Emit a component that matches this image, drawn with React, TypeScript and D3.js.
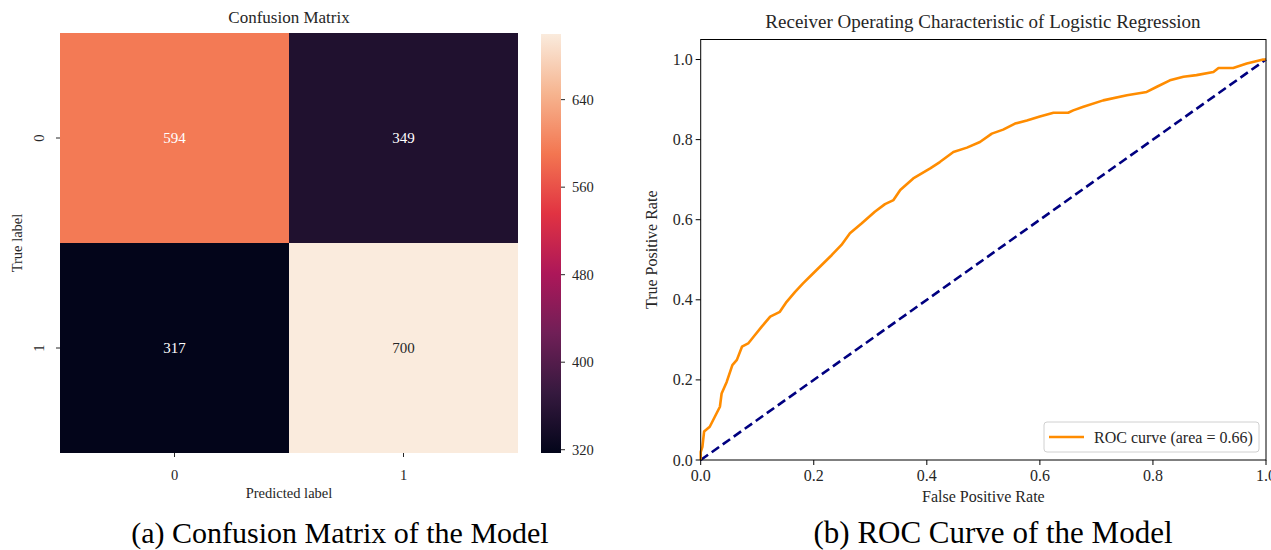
import React from "react";
import * as d3 from "d3";

// ---------- Data ----------
const cmLabels = ["0", "1"];
const cmValues = [
  [594, 349],
  [317, 700],
];
const cbarTicks = [320, 400, 480, 560, 640];

const rocFpr = [0, 0, 0.003, 0.006, 0.016, 0.025, 0.034, 0.037, 0.046, 0.056, 0.064, 0.073, 0.084, 0.096, 0.108, 0.123, 0.14, 0.152, 0.167, 0.181, 0.196, 0.214, 0.232, 0.249, 0.264, 0.285, 0.308, 0.326, 0.341, 0.353, 0.376, 0.406, 0.423, 0.447, 0.471, 0.494, 0.515, 0.535, 0.556, 0.577, 0.6, 0.624, 0.65, 0.659, 0.677, 0.712, 0.754, 0.789, 0.807, 0.83, 0.854, 0.877, 0.907, 0.916, 0.942, 0.966, 0.995, 1];
const rocTpr = [0, 0.02, 0.033, 0.071, 0.083, 0.108, 0.133, 0.166, 0.195, 0.237, 0.25, 0.283, 0.291, 0.312, 0.333, 0.358, 0.37, 0.395, 0.42, 0.441, 0.462, 0.487, 0.512, 0.537, 0.566, 0.591, 0.62, 0.639, 0.649, 0.674, 0.703, 0.728, 0.744, 0.769, 0.78, 0.794, 0.815, 0.825, 0.84, 0.848, 0.858, 0.867, 0.867, 0.873, 0.882, 0.898, 0.911, 0.919, 0.932, 0.948, 0.957, 0.961, 0.969, 0.979, 0.979, 0.99, 1.0, 1];
const rocTicks = [0, 0.2, 0.4, 0.6, 0.8, 1.0];
const rocArea = 0.66;

// seaborn "rocket" colormap samples
const rocketStops = [
  [0, "#03051a"],
  [1 / 7, "#35193e"],
  [2 / 7, "#701f57"],
  [3 / 7, "#ad1759"],
  [4 / 7, "#e13342"],
  [5 / 7, "#f37651"],
  [6 / 7, "#f6b48f"],
  [1, "#faebdd"],
] as [number, string][];

const SERIF = "'Liberation Serif', 'Times New Roman', serif";

function rocket(t: number) {
  const s = d3
    .scaleLinear<string>()
    .domain(rocketStops.map((d) => d[0]))
    .range(rocketStops.map((d) => d[1]))
    .interpolate(d3.interpolateRgb)
    .clamp(true);
  return s(t);
}

function luminance(c: string) {
  const rgb = d3.rgb(c);
  const f = (v: number) => {
    const x = v / 255;
    return x <= 0.03928 ? x / 12.92 : Math.pow((x + 0.055) / 1.055, 2.4);
  };
  return 0.2126 * f(rgb.r) + 0.7152 * f(rgb.g) + 0.0722 * f(rgb.b);
}

export default function App() {
  // ----- Confusion matrix geometry -----
  const hmLeft = 60, hmRight = 518, hmTop = 33, hmBottom = 453;
  const xBand = d3.scaleBand().domain(cmLabels).range([hmLeft, hmRight]);
  const yBand = d3.scaleBand().domain(cmLabels).range([hmTop, hmBottom]);
  const flat = cmValues.flat();
  const vmin = d3.min(flat)!;
  const vmax = d3.max(flat)!;
  const norm = d3.scaleLinear().domain([vmin, vmax]).range([0, 1]);
  const cbX = 541, cbW = 20;
  const cbScale = d3.scaleLinear().domain([vmin, vmax]).range([hmBottom, hmTop + 1]);

  // ----- ROC geometry -----
  const xR = d3.scaleLinear().domain([0, 1]).range([700.7, 1266]);
  const yR = d3.scaleLinear().domain([0, 1.05]).range([460, 39.5]);
  const rocPts = rocFpr.map((f, i) => [f, rocTpr[i]] as [number, number]);
  const line = d3
    .line<[number, number]>()
    .x((d) => xR(d[0]))
    .y((d) => yR(d[1]));

  const axisColor = "#262626";

  return (
    <svg
      width={1271}
      height={550}
      style={{ position: "absolute", left: 0, top: 0, background: "#fff" }}
      fontFamily={SERIF}
    >
      <defs>
        <linearGradient id="rocketGrad" x1="0" y1="1" x2="0" y2="0">
          {rocketStops.map(([o, c]) => (
            <stop key={o} offset={o} stopColor={c} />
          ))}
        </linearGradient>
      </defs>

      {/* ===== Confusion matrix ===== */}
      <text x={(hmLeft + hmRight) / 2} y={23} textAnchor="middle" fontSize={17} fill={axisColor}>
        Confusion Matrix
      </text>
      {cmValues.map((row, ri) =>
        row.map((v, ci) => {
          const col = rocket(norm(v));
          const txtCol = luminance(col) > 0.408 ? "#262626" : "#ffffff";
          const x = xBand(cmLabels[ci])!;
          const y = yBand(cmLabels[ri])!;
          return (
            <g key={`${ri}-${ci}`}>
              <rect x={x} y={y} width={xBand.bandwidth()} height={yBand.bandwidth()} fill={col} />
              <text
                x={x + xBand.bandwidth() / 2}
                y={y + yBand.bandwidth() / 2}
                textAnchor="middle"
                dominantBaseline="central"
                fontSize={15}
                fill={txtCol}
              >
                {v}
              </text>
            </g>
          );
        })
      )}
      {/* x ticks */}
      {cmLabels.map((l) => {
        const cx = xBand(l)! + xBand.bandwidth() / 2;
        return (
          <g key={"xt" + l}>
            <line x1={cx} x2={cx} y1={hmBottom} y2={hmBottom + 4} stroke={axisColor} strokeWidth={1} />
            <text x={cx} y={480} textAnchor="middle" fontSize={14.5} fill={axisColor}>
              {l}
            </text>
          </g>
        );
      })}
      <text x={(hmLeft + hmRight) / 2} y={498} textAnchor="middle" fontSize={14.5} fill={axisColor}>
        Predicted label
      </text>
      {/* y ticks */}
      {cmLabels.map((l) => {
        const cy = yBand(l)! + yBand.bandwidth() / 2;
        return (
          <g key={"yt" + l}>
            <line x1={hmLeft - 4} x2={hmLeft} y1={cy} y2={cy} stroke={axisColor} strokeWidth={1} />
            <text
              transform={`translate(${44},${cy}) rotate(-90)`}
              textAnchor="middle"
              fontSize={14.5}
              fill={axisColor}
            >
              {l}
            </text>
          </g>
        );
      })}
      <text
        transform={`translate(${22},${(hmTop + hmBottom) / 2}) rotate(-90)`}
        textAnchor="middle"
        fontSize={14.5}
        fill={axisColor}
      >
        True label
      </text>
      {/* colorbar */}
      <rect x={cbX} y={hmTop + 1} width={cbW} height={hmBottom - hmTop - 1} fill="url(#rocketGrad)" />
      {cbarTicks.map((t) => (
        <g key={"cb" + t}>
          <line x1={cbX + cbW} x2={cbX + cbW + 4} y1={cbScale(t)} y2={cbScale(t)} stroke={axisColor} />
          <text x={cbX + cbW + 11} y={cbScale(t)} dominantBaseline="central" fontSize={14.5} fill={axisColor}>
            {t}
          </text>
        </g>
      ))}

      {/* ===== ROC ===== */}
      <text x={983} y={28} textAnchor="middle" fontSize={19} fill={axisColor}>
        Receiver Operating Characteristic of Logistic Regression
      </text>
      <line
        x1={xR(0)}
        y1={yR(0)}
        x2={xR(1)}
        y2={yR(1)}
        stroke="#000080"
        strokeWidth={2.6}
        strokeDasharray="9,4.5"
      />
      <path d={line(rocPts) || ""} fill="none" stroke="#ff8c00" strokeWidth={2.6} strokeLinejoin="round" />
      <rect
        x={xR(0)}
        y={yR(1.05)}
        width={xR(1) - xR(0)}
        height={yR(0) - yR(1.05)}
        fill="none"
        stroke="#000"
        strokeWidth={1}
      />
      {rocTicks.map((t) => (
        <g key={"rx" + t}>
          <line x1={xR(t)} x2={xR(t)} y1={yR(0)} y2={yR(0) + 5} stroke="#000" />
          <text x={xR(t)} y={yR(0) + 21} textAnchor="middle" fontSize={16} fill={axisColor}>
            {d3.format(".1f")(t)}
          </text>
          <line x1={xR(0) - 5} x2={xR(0)} y1={yR(t)} y2={yR(t)} stroke="#000" />
          <text x={xR(0) - 8} y={yR(t)} textAnchor="end" dominantBaseline="central" fontSize={16} fill={axisColor}>
            {d3.format(".1f")(t)}
          </text>
        </g>
      ))}
      <text x={(xR(0) + xR(1)) / 2} y={502} textAnchor="middle" fontSize={16} fill={axisColor}>
        False Positive Rate
      </text>
      <text
        transform={`translate(${657},${(yR(0) + yR(1.05)) / 2}) rotate(-90)`}
        textAnchor="middle"
        fontSize={16}
        fill={axisColor}
      >
        True Positive Rate
      </text>
      {/* legend */}
      <rect x={1044} y={422} width={215} height={30} rx={3} fill="#fff" fillOpacity={0.8} stroke="#d0d0d0" />
      <line x1={1049} x2={1084} y1={437} y2={437} stroke="#ff8c00" strokeWidth={2.6} />
      <text x={1094} y={437} dominantBaseline="central" fontSize={16} fill={axisColor}>
        {`ROC curve (area = ${rocArea.toFixed(2)})`}
      </text>

      {/* captions */}
      <text x={340} y={543} textAnchor="middle" fontSize={30} fill="#000">
        (a) Confusion Matrix of the Model
      </text>
      <text x={993} y={543} textAnchor="middle" fontSize={31} fill="#000">
        (b) ROC Curve of the Model
      </text>
    </svg>
  );
}
